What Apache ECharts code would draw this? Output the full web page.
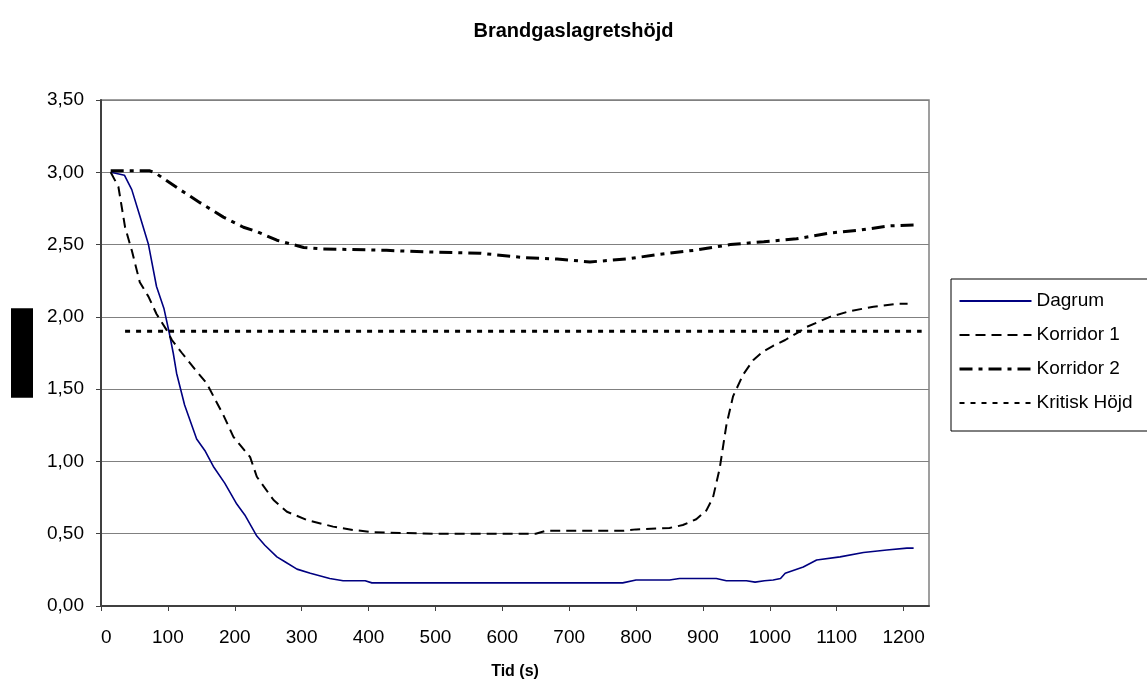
<!DOCTYPE html>
<html>
<head>
<meta charset="utf-8">
<script src="https://cdn.jsdelivr.net/npm/echarts@6/dist/echarts.min.js"></script>
<style>html,body{margin:0;padding:0;background:#fff}#c{width:1147px;height:686px}</style>
</head>
<body>
<div id="c"></div>
<script>
const titleText = 'Brandgaslagretshöjd';
const xName = 'Tid (s)';
const yName = 'Höjd (m)';
const seriesNames = ['Dagrum', 'Korridor 1', 'Korridor 2', 'Kritisk Höjd'];

const dagrumT = [14.5, 25, 35, 46, 58, 71, 83, 94, 102, 108, 113, 125, 143, 156, 168, 185, 203, 215, 233, 245, 263, 275, 293, 313, 342, 362, 395, 405, 500, 600, 700, 780, 800, 850, 865, 920, 935, 965, 978, 992, 1005, 1016, 1023, 1050, 1070, 1105, 1140, 1175, 1205, 1215];
const dagrumH = [3.00, 2.99, 2.98, 2.88, 2.70, 2.50, 2.21, 2.06, 1.89, 1.75, 1.61, 1.39, 1.155, 1.07, 0.965, 0.85, 0.705, 0.63, 0.484, 0.42, 0.34, 0.306, 0.255, 0.226, 0.19, 0.175, 0.175, 0.16, 0.16, 0.16, 0.16, 0.16, 0.18, 0.18, 0.19, 0.19, 0.175, 0.175, 0.165, 0.175, 0.18, 0.19, 0.226, 0.27, 0.318, 0.34, 0.37, 0.387, 0.40, 0.40];

const korr1T = [14.5, 26, 36, 46, 58, 71, 83, 98, 106, 121, 140, 158, 183, 198, 223, 233, 258, 278, 308, 347, 377, 407, 500, 600, 650, 665, 700, 780, 800, 850, 870, 890, 905, 915, 925, 935, 945, 960, 975, 990, 1005, 1023, 1045, 1055, 1090, 1120, 1155, 1190, 1206];
const korr1H = [3.00, 2.90, 2.62, 2.46, 2.24, 2.14, 2.02, 1.91, 1.84, 1.75, 1.64, 1.54, 1.32, 1.17, 1.03, 0.894, 0.733, 0.652, 0.595, 0.549, 0.526, 0.51, 0.50, 0.50, 0.50, 0.52, 0.52, 0.52, 0.53, 0.54, 0.56, 0.60, 0.66, 0.75, 0.95, 1.25, 1.45, 1.60, 1.70, 1.76, 1.80, 1.84, 1.90, 1.93, 2.00, 2.04, 2.07, 2.09, 2.09];

const korr2T = [14.5, 73, 83, 118, 148, 183, 213, 233, 263, 303, 332, 427, 482, 567, 632, 682, 731, 786, 831, 886, 941, 991, 1040, 1090, 1135, 1180, 1215];
const korr2H = [3.01, 3.01, 2.99, 2.88, 2.79, 2.69, 2.62, 2.59, 2.53, 2.48, 2.47, 2.46, 2.45, 2.44, 2.41, 2.40, 2.38, 2.40, 2.43, 2.46, 2.50, 2.52, 2.54, 2.58, 2.60, 2.63, 2.635];

const kritiskT = [36, 1227];
const kritiskH = [1.9, 1.9];

const xTicks = {min: 0, max: 1238, interval: 100};
const yTicks = {min: 0, max: 3.5, interval: 0.5};

const pairs = (t, h) => t.map((v, i) => [v, h[i]]);
const FONT = "'Liberation Sans', Arial, sans-serif";
const styles = [
  {color: '#000080', width: 1.6, type: 'solid'},
  {color: '#000', width: 2, type: [10, 6]},
  {color: '#000', width: 3, type: [13, 6, 4, 6]},
  {color: '#000', width: 3, type: [5, 6]}
];
const legendWidths = [2, 2, 3, 2];

const chart = echarts.init(document.getElementById('c'), null, {renderer: 'canvas'});
chart.setOption({
  backgroundColor: '#fff',
  animation: false,
  title: {
    text: titleText, left: 'center', top: 21, padding: 0,
    textStyle: {fontFamily: FONT, fontSize: 20, fontWeight: 'bold', color: '#000'}
  },
  legend: {
    orient: 'vertical', left: 951, top: 279,
    itemWidth: 72, itemHeight: 14, itemGap: 14,
    padding: [12, 30, 18, 7],
    borderColor: '#000', borderWidth: 1,
    itemStyle: {color: 'transparent', borderWidth: 0, opacity: 0},
    textStyle: {fontFamily: FONT, fontSize: 19, lineHeight: 20, color: '#000'},
    data: seriesNames.map((n, i) => ({name: n, lineStyle: {width: legendWidths[i]}}))
  },
  grid: {left: 101, right: 218, top: 100, bottom: 80, show: true, borderColor: '#808080', borderWidth: 1.5, containLabel: false},
  xAxis: {
    type: 'value', min: xTicks.min, max: xTicks.max, interval: xTicks.interval,
    name: xName, nameLocation: 'middle', nameGap: 58,
    nameTextStyle: {fontFamily: FONT, fontSize: 16, fontWeight: 'bold', color: '#000'},
    axisLine: {show: true, lineStyle: {color: '#404040', width: 2}},
    axisTick: {show: true, inside: false, length: 5, lineStyle: {color: '#404040', width: 1}},
    axisLabel: {fontFamily: FONT, fontSize: 19, color: '#000', margin: 22, showMaxLabel: false, alignMinLabel: 'left', formatter: v => String(v)},
    splitLine: {show: false}
  },
  yAxis: {
    type: 'value', min: yTicks.min, max: yTicks.max, interval: yTicks.interval,
    name: yName, nameLocation: 'middle', nameGap: 68, nameRotate: 90,
    nameTextStyle: {fontFamily: FONT, fontSize: 16, lineHeight: 18, color: '#000', backgroundColor: '#000', padding: [2, 14, 2, 14]},
    axisLine: {show: true, lineStyle: {color: '#404040', width: 2}},
    axisTick: {show: true, inside: false, length: 5, lineStyle: {color: '#404040', width: 1}},
    axisLabel: {fontFamily: FONT, fontSize: 19, color: '#000', margin: 17, formatter: v => v.toFixed(2).replace('.', ',')},
    splitLine: {show: true, lineStyle: {color: '#808080', width: 1}}
  },
  series: [
    {name: seriesNames[0], type: 'line', data: pairs(dagrumT, dagrumH), symbol: 'none', lineStyle: styles[0], itemStyle: {color: styles[0].color}},
    {name: seriesNames[1], type: 'line', data: pairs(korr1T, korr1H), symbol: 'none', lineStyle: styles[1], itemStyle: {color: styles[1].color}},
    {name: seriesNames[2], type: 'line', data: pairs(korr2T, korr2H), symbol: 'none', lineStyle: styles[2], itemStyle: {color: styles[2].color}},
    {name: seriesNames[3], type: 'line', data: pairs(kritiskT, kritiskH), symbol: 'none', lineStyle: styles[3], itemStyle: {color: styles[3].color}}
  ]
});
</script>
</body>
</html>
